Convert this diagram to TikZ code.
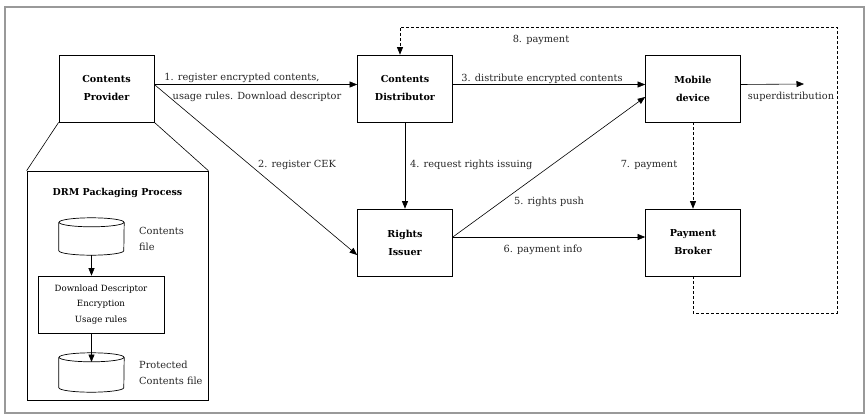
\documentclass[tikz,border=0pt]{standalone}
\usepackage{fontspec}
\setmainfont{DejaVu Serif}
\usetikzlibrary{arrows.meta}

\begin{document}
\begin{tikzpicture}[x=1pt,y=-1pt,
	entity/.style={draw,line width=0.7pt,minimum width=95pt,minimum height=67pt,align=center,
		font=\bfseries\fontsize{9.6}{18}\selectfont},
	store/.style={inner sep=0pt,minimum width=65pt,minimum height=37pt},
	lbl/.style={font=\fontsize{9.8}{16}\selectfont,text=black!85,inner sep=1pt},
	flow/.style={line width=0.6pt,-{Triangle[length=7.5pt,width=6pt]}},
	money/.style={flow,dash pattern=on 3pt off 2pt}]
	\useasboundingbox (0,0) rectangle (868,415);
	\draw[black!40,line width=1.5pt] (5,7) rectangle (864,413);

	\node[entity] (cp) at (106.5,88.5) {Contents\\Provider};
	\node[entity] (cd) at (405,88.5) {Contents\\Distributor};
	\node[entity] (md) at (693,88.5) {Mobile\\device};
	\node[entity] (ri) at (405,242.5) {Rights\\Issuer};
	\node[entity] (pb) at (693,242.5) {Payment\\Broker};

	% packaging inside the provider
	\node[draw,line width=0.7pt,minimum width=181pt,minimum height=229pt] (pkg) at (117.5,285.5) {};
	\draw[line width=0.6pt] (cp.south west) -- (pkg.north west)
		(cp.south east) -- (pkg.north east);
	\node[font=\bfseries\fontsize{9.5}{10}\selectfont] (pkgtitle) at (117.5,193) {DRM Packaging Process};
	\node[store] (cf) at (91.5,236.5) {};
	\node[store,minimum height=39pt] (pf) at (91.5,372.5) {};
	\foreach \s in {cf,pf}{
		\draw[line width=0.7pt] ([yshift=-4.5pt]\s.north) ellipse [x radius=32.5pt,y radius=4.5pt];
		\draw[line width=0.7pt] ([yshift=-4.5pt]\s.north west) -- ([yshift=4.5pt]\s.south west)
			arc [start angle=180,end angle=360,x radius=32.5pt,y radius=4.5pt] -- ([yshift=-4.5pt]\s.north east);
	}
	\node[lbl,anchor=west,align=left] (cflbl) at (138,239) {Contents\\file};
	\node[lbl,anchor=west,align=left] (pflbl) at (138,373) {Protected\\Contents file};
	\node[draw,line width=0.7pt,minimum width=126pt,minimum height=57pt,align=center,
		font=\fontsize{8.6}{15.5}\selectfont] (proc) at (101,304.5) {Download Descriptor\\Encryption\\Usage rules};
	\coordinate (pftop) at (91.5,362);
	\draw[flow] (cf.south) -- (cf.south |- proc.north);
	\draw[flow] (cf.south |- proc.south) -- (pftop);

	% flows between parties
	\draw[flow] ([yshift=4pt]cp.east) -- ([yshift=4pt]cd.west);
	\node[lbl] (l1a) at (242,78) {1. register encrypted contents,};
	\node[lbl] (l1b) at (257,97) {usage rules. Download descriptor};
	\draw[flow] ([yshift=4pt]cp.east) -- ([yshift=-12.5pt]ri.west);
	\node[lbl] (l2) at (297,165) {2. register CEK};
	\draw[flow] ([yshift=4pt]cd.east) -- ([yshift=4pt]md.west);
	\node[lbl] (l3) at (542,79) {3. distribute encrypted contents};
	\draw[flow] (cd.south) -- (ri.north);
	\node[lbl,anchor=west] (l4) at (409,165) {4. request rights issuing};
	\draw[flow] ([yshift=5.5pt]ri.east) -- ([yshift=-8.5pt]md.west);
	\node[lbl] (l5) at (549,202) {5. rights push};
	\draw[flow] ([yshift=5.5pt]ri.east) -- ([yshift=5.5pt]pb.west);
	\node[lbl] (l6) at (543,250) {6. payment info};
	\draw[money] (md.south) -- (pb.north);
	\node[lbl] (l7) at (649,165) {7. payment};
	\coordinate (backlow) at (837,313);
	\coordinate (backtop) at (837,27);
	\draw[money] (pb.south) |- (backlow) -- (backtop) -| ([xshift=-5pt]cd.north);
	\node[lbl] (l8) at (541,40) {8. payment};
	\coordinate (sd) at (804,84);
	\draw[flow] ([yshift=4pt]md.east) -- (sd);
	\node[lbl] (lsd) at (791,97) {superdistribution};
\end{tikzpicture}
\end{document}
